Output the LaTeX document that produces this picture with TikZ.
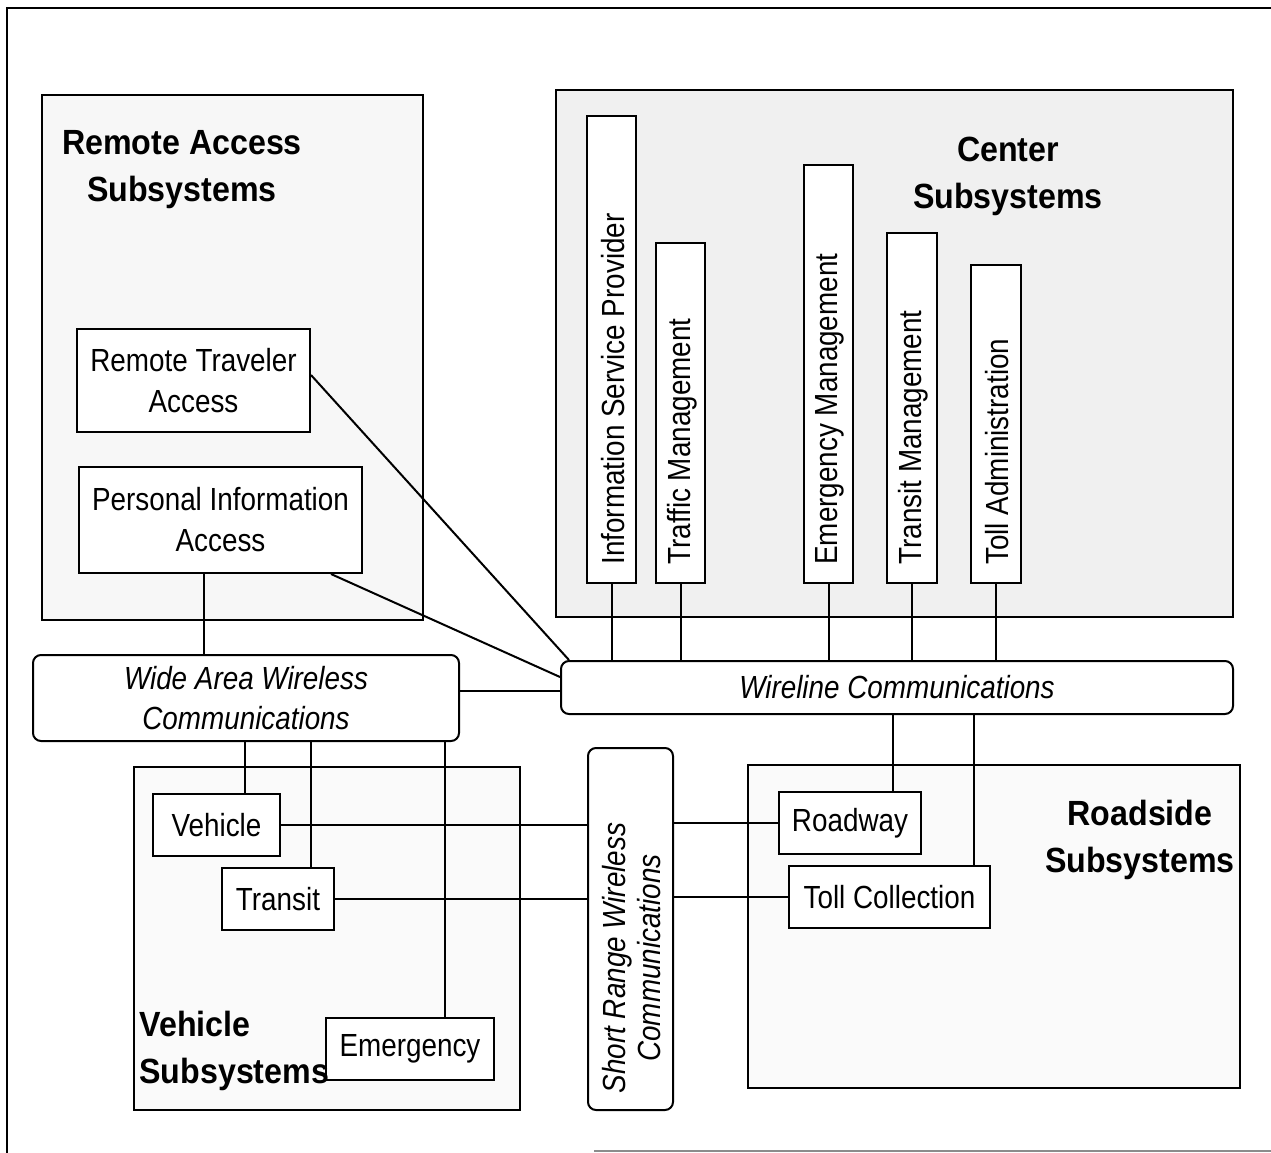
\documentclass[tikz,border=0pt]{standalone}
\usepackage{fontspec}
\setmainfont{Liberation Sans}[FakeStretch=0.87]
\newfontfamily\headfont{Liberation Sans}[FakeStretch=0.92]
\begin{document}
\begin{tikzpicture}[x=0.5pt,y=-0.5pt,
  sz/.style 2 args={minimum width=#1*0.5pt, minimum height=#2*0.5pt},
  group/.style={draw, line width=1pt, inner sep=0pt},
  unit/.style={draw, line width=1pt, fill=white, inner sep=0pt,
    font=\fontsize{16}{20.5}\selectfont, align=center},
  comm/.style={draw, line width=1pt, fill=white, rounded corners=4pt, inner sep=0pt,
    font=\fontsize{16}{20}\selectfont\itshape, align=center},
  vlabel/.style={rotate=90, anchor=west, inner sep=0pt, font=\fontsize{16}{19}\selectfont},
  title/.style={font=\headfont\bfseries\fontsize{17.5}{23.5}\selectfont, align=center, inner sep=0pt},
  link/.style={line width=1pt}
]
\useasboundingbox (0,0) rectangle (1271,1153);

% page frame
\draw[line width=1.2pt] (7,1153) -- (7,8) -- (1271,8);
\draw[line width=0.8pt, black!45] (594,1151) -- (1271,1151);

% subsystem groups
\node[group, fill=black!3, sz={381}{525}] (ra) at (232.5,357.5) {};
\node[group, fill=black!6, sz={677}{527}] (cs) at (894.5,353.5) {};
\node[group, fill=black!2, sz={386}{343}] (vs) at (327,938.5) {};
\node[group, fill=black!2, sz={492}{323}] (rs) at (994,926.5) {};

% group titles
\node[title] (ra-t) at (182,170) {Remote Access\\Subsystems};
\node[title] (cs-t) at (1008,176) {Center\\Subsystems};
\node[title] (rs-t) at (1140,840) {Roadside\\Subsystems};

% communication buses
\node[comm, sz={672}{53}] (wl) at (897,687.5) {Wireline Communications};
\node[comm, sz={426}{86}] (waw) at (246,698) {Wide Area Wireless\\Communications};
\node[comm, sz={85}{362}] (srw) at (630.5,929) {};
\node[rotate=90, inner sep=0pt, align=center,
  font=\fontsize{16}{17.5}\selectfont\itshape] (srw-t) at (632,958)
  {Short Range Wireless\\Communications};

% remote access units
\node[unit, sz={233}{103}] (rta) at (193.5,380.5) {Remote Traveler\\Access};
\node[unit, sz={283}{106}] (pia) at (220.5,520) {Personal Information\\Access};

% center units
\node[unit, sz={49}{467}] (isp) at (611.5,349.5) {};
\node[unit, sz={49}{340}] (tm) at (680.5,413) {};
\node[unit, sz={49}{418}] (em) at (828.5,374) {};
\node[unit, sz={50}{350}] (trm) at (912,408) {};
\node[unit, sz={50}{318}] (ta) at (996,424) {};
\node[vlabel] (isp-t) at (613,565) {Information Service Provider};
\node[vlabel] (tm-t) at (682,565) {Traffic Management};
\node[vlabel] (em-t) at (830,565) {Emergency Management};
\node[vlabel] (trm-t) at (913.5,565) {Transit Management};
\node[vlabel] (ta-t) at (997.5,565) {Toll Administration};

% vehicle units
\node[unit, sz={127}{62}] (veh) at (216.5,825) {Vehicle};
\node[unit, sz={112}{62}] (tr) at (278,899) {Transit};
\node[unit, sz={168}{62}] (emv) at (410,1049) {Emergency};
\node[title, anchor=west, align=left] (vs-t) at (139,1051) {Vehicle\\Subsystems};

% roadside units
\node[unit, sz={142}{62}] (rd) at (850,823) {Roadway};
\node[unit, sz={201}{62}] (tc) at (889.5,897) {Toll Collection};

% links
\draw[link] ([xshift=-8.25pt]pia.south) -- ([xshift=-8.25pt]pia.south |- waw.north);
\draw[link] ([yshift=2.75pt]rta.east) -- ([xshift=4.5pt]wl.north west);
\draw[link] ([xshift=-16pt]pia.south east) -- ([yshift=5.25pt]wl.west);
\foreach \n in {isp,tm,em,trm,ta}
  \draw[link] (\n.south) -- (\n.south |- wl.north);
\draw[link] ([yshift=-1.5pt]wl.west) -- ([yshift=-1.5pt]wl.west -| waw.east);
\draw[link] ([xshift=14.25pt]veh.north) -- ([xshift=14.25pt]veh.north |- waw.south);
\draw[link] ([xshift=16.5pt]tr.north) -- ([xshift=16.5pt]tr.north |- waw.south);
\draw[link] ([xshift=17.5pt]emv.north) -- ([xshift=17.5pt]emv.north |- waw.south);
\draw[link] (veh.east) -- (veh.east -| srw.west);
\draw[link] (tr.east) -- (tr.east -| srw.west);
\draw[link] (rd.west -| srw.east) -- (rd.west);
\draw[link] (tc.west -| srw.east) -- (tc.west);
\draw[link] ([xshift=21.5pt]rd.north) -- ([xshift=21.5pt]rd.north |- wl.south);
\draw[link] ([xshift=42pt]tc.north) -- ([xshift=42pt]tc.north |- wl.south);
\end{tikzpicture}
\end{document}
